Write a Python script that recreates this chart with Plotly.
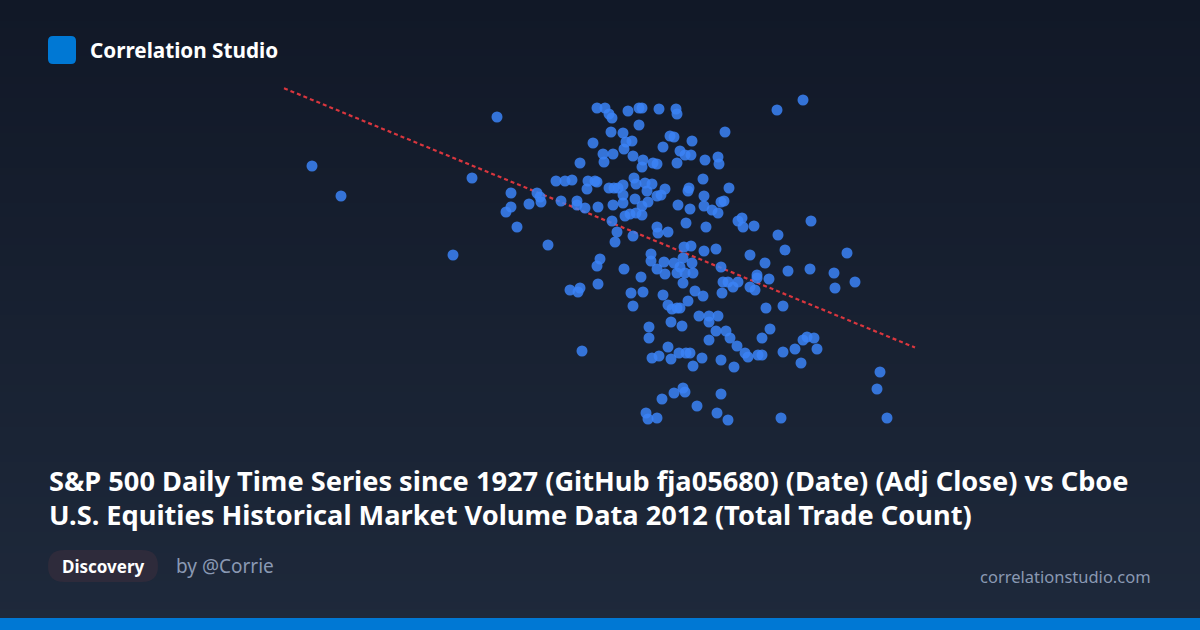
import numpy as np
import plotly.graph_objects as go

# Values (x: Adj Close scale, y: Total Trade Count scale, chart units)
adj_close = [
    312, 341, 453, 472, 497, 511, 511, 506, 517, 529, 537, 540, 541, 548, 556, 565, 572, 561, 577, 577,
    585, 580, 587, 588, 595, 597, 593, 598,
    597, 605, 609, 612, 628, 639, 642, 659, 676, 677, 777, 803, 639, 611, 623, 632, 626, 624, 670, 674,
    692, 725, 603, 613, 604, 633, 643, 642, 653, 657, 677, 663, 680, 685, 691, 705, 718, 719, 703, 634,
    636, 645, 652, 609, 614, 618, 623, 647, 665, 689, 688, 729, 623, 657, 661, 635, 648, 642, 613, 623,
    678, 690, 704, 704, 712, 721, 724, 718, 625, 630, 636, 642, 612, 617, 615, 633, 657, 658, 668, 686,
    706, 738, 742, 743, 754, 778, 811,
    750, 765, 785, 847, 651, 651, 664, 684, 691, 704, 716, 597, 600, 624, 641, 598, 570, 578, 580, 631,
    643, 633, 657, 665, 674, 677, 683, 692, 685, 693, 683, 680, 721, 788, 810, 834, 855, 835, 723, 728,
    733, 738, 722, 750, 755, 757, 757, 769, 695, 703, 688, 663, 668, 672, 677, 680, 671, 682, 699, 709,
    718, 709, 766, 783, 770, 716, 726, 730, 709, 762, 737, 745, 748, 758, 762, 783, 795, 803, 807, 814,
    817, 801, 649, 649, 582, 668, 652, 659, 671, 679, 686, 690, 693, 702, 721, 734,
    880, 877, 887, 674, 683, 685, 662, 646, 648, 657, 697, 721, 717, 728, 781,
]
trade_count = [
    166, 196, 255, 178, 117, 193, 207, 212, 227, 204, 193, 197, 202, 245, 181, 181, 180, 201, 201, 205,
    208, 163, 189, 181, 181, 182, 143, 207,
    108, 108, 114, 118, 111, 108, 108, 109, 109, 114, 110, 100, 125, 132, 133, 141, 142, 149, 136, 137,
    141, 132, 154, 154, 162, 156, 160, 167, 163, 164, 163, 147, 151, 155, 155, 160, 157, 164, 179, 178,
    184, 183, 184, 188, 188, 188, 185, 191, 189, 188, 191, 188, 195, 196, 195, 199, 202, 206, 205, 203,
    205, 209, 196, 206, 210, 202, 201, 213, 216, 214, 213, 215, 221, 232, 242, 236, 227, 233, 232, 223,
    227, 221, 218, 227, 226, 235, 221,
    255, 263, 250, 253, 254, 261, 262, 247, 246, 251, 249, 266, 259, 269, 277, 284, 290, 292, 288, 293,
    292, 306, 269, 274, 263, 273, 258, 263, 273, 273, 283, 267, 267, 271, 269, 273, 282, 288, 282, 282,
    287, 282, 293, 287, 290, 275, 278, 279, 291, 296, 301, 295, 305, 309, 308, 308, 322, 326, 316, 316,
    316, 322, 308, 306, 329, 331, 331, 338, 340, 338, 346, 353, 357, 355, 355, 352, 349, 340, 337, 338,
    349, 363, 327, 338, 351, 347, 358, 356, 359, 353, 353, 353, 366, 358, 360, 367,
    372, 389, 418, 393, 388, 392, 399, 413, 419, 418, 406, 394, 413, 420, 418,
]

trend_x_span = [284, 915]

title_lines = [
    "S&P 500 Daily Time Series since 1927 (GitHub fja05680) (Date) (Adj Close) vs Cboe",
    "U.S. Equities Historical Market Volume Data 2012 (Total Trade Count)",
]
brand = "Correlation Studio"
badge = "Discovery"
author = "by @Corrie"
site = "correlationstudio.com"

W, H = 1200, 630
FONT = "Noto Sans"

x = np.array(adj_close, dtype=float)
y = np.array(trade_count, dtype=float)
slope, intercept = np.polyfit(x, y, 1)
tx = np.array(trend_x_span, dtype=float)
ty = slope * tx + intercept

fig = go.Figure()
fig.add_trace(go.Scatter(
    x=tx, y=ty, mode="lines",
    line=dict(color="#d9363e", width=2.2, dash="4px,3px"),
    hoverinfo="skip", showlegend=False,
))
fig.add_trace(go.Scatter(
    x=x, y=y, mode="markers",
    marker=dict(color="#3b82f6", size=11, opacity=0.85, line=dict(width=0)),
    showlegend=False,
))

shapes = []
# vertical gradient background
n = 90
top = np.array([17, 24, 39])
bot = np.array([30, 41, 59])
for i in range(n):
    t = i / (n - 1)
    c = (top + (bot - top) * t).round().astype(int)
    shapes.append(dict(type="rect", xref="paper", yref="paper",
                       x0=0, x1=1, y0=1 - i / n, y1=1 - (i + 1) / n - 0.002,
                       fillcolor=f"rgb({c[0]},{c[1]},{c[2]})", line=dict(width=0), layer="below"))
# bottom bar
shapes.append(dict(type="rect", xref="paper", yref="paper", x0=0, x1=1,
                   y0=0, y1=12 / H, fillcolor="#0078d4", line=dict(width=0), layer="above"))


def rounded_rect(x0, y0, x1, y1, r):
    def px(xx):
        return xx / W

    def py(yy):
        return 1 - yy / H
    p = (f"M {px(x0 + r)} {py(y0)} L {px(x1 - r)} {py(y0)} "
         f"Q {px(x1)} {py(y0)} {px(x1)} {py(y0 + r)} "
         f"L {px(x1)} {py(y1 - r)} Q {px(x1)} {py(y1)} {px(x1 - r)} {py(y1)} "
         f"L {px(x0 + r)} {py(y1)} Q {px(x0)} {py(y1)} {px(x0)} {py(y1 - r)} "
         f"L {px(x0)} {py(y0 + r)} Q {px(x0)} {py(y0)} {px(x0 + r)} {py(y0)} Z")
    return p


shapes.append(dict(type="path", xref="paper", yref="paper", path=rounded_rect(48, 36, 76, 64, 5),
                   fillcolor="#0078d4", line=dict(width=0), layer="above"))
shapes.append(dict(type="path", xref="paper", yref="paper", path=rounded_rect(48, 550, 158, 582, 16),
                   fillcolor="#2e2b3b", line=dict(width=0), layer="above"))

annotations = [
    dict(text=f"<b>{brand}</b>", x=88 / W, y=1 - 50 / H, xref="paper", yref="paper",
         xanchor="left", yanchor="middle", showarrow=False,
         font=dict(family=FONT, size=20.7, color="#ffffff")),
    dict(text=f"<b>{title_lines[0]}</b>", x=47 / W, y=1 - 481 / H, xref="paper", yref="paper",
         xanchor="left", yanchor="middle", showarrow=False,
         font=dict(family=FONT, size=27.2, color="#ffffff")),
    dict(text=f"<b>{title_lines[1]}</b>", x=47 / W, y=1 - 514 / H, xref="paper", yref="paper",
         xanchor="left", yanchor="middle", showarrow=False,
         font=dict(family=FONT, size=27.2, color="#ffffff")),
    dict(text=f"<b>{badge}</b>", x=103 / W, y=1 - 566 / H, xref="paper", yref="paper",
         xanchor="center", yanchor="middle", showarrow=False,
         font=dict(family=FONT, size=17, color="#ffffff")),
    dict(text=author, x=174 / W, y=1 - 566 / H, xref="paper", yref="paper",
         xanchor="left", yanchor="middle", showarrow=False,
         font=dict(family=FONT, size=19, color="#8a99b3")),
    dict(text=site, x=1153 / W, y=1 - 576 / H, xref="paper", yref="paper",
         xanchor="right", yanchor="middle", showarrow=False,
         font=dict(family=FONT, size=16.5, color="#8a99b3")),
]

fig.update_layout(
    width=W, height=H,
    margin=dict(l=0, r=0, t=0, b=0),
    paper_bgcolor="#111827", plot_bgcolor="rgba(0,0,0,0)",
    xaxis=dict(range=[0, W], visible=False, fixedrange=True),
    yaxis=dict(range=[H, 0], visible=False, fixedrange=True),
    shapes=shapes, annotations=annotations,
    showlegend=False,
)
fig.write_html(
    "out.html",
    config={"displayModeBar": False},
    post_script="document.body.style.margin='0';document.body.style.background='#111827';",
)
